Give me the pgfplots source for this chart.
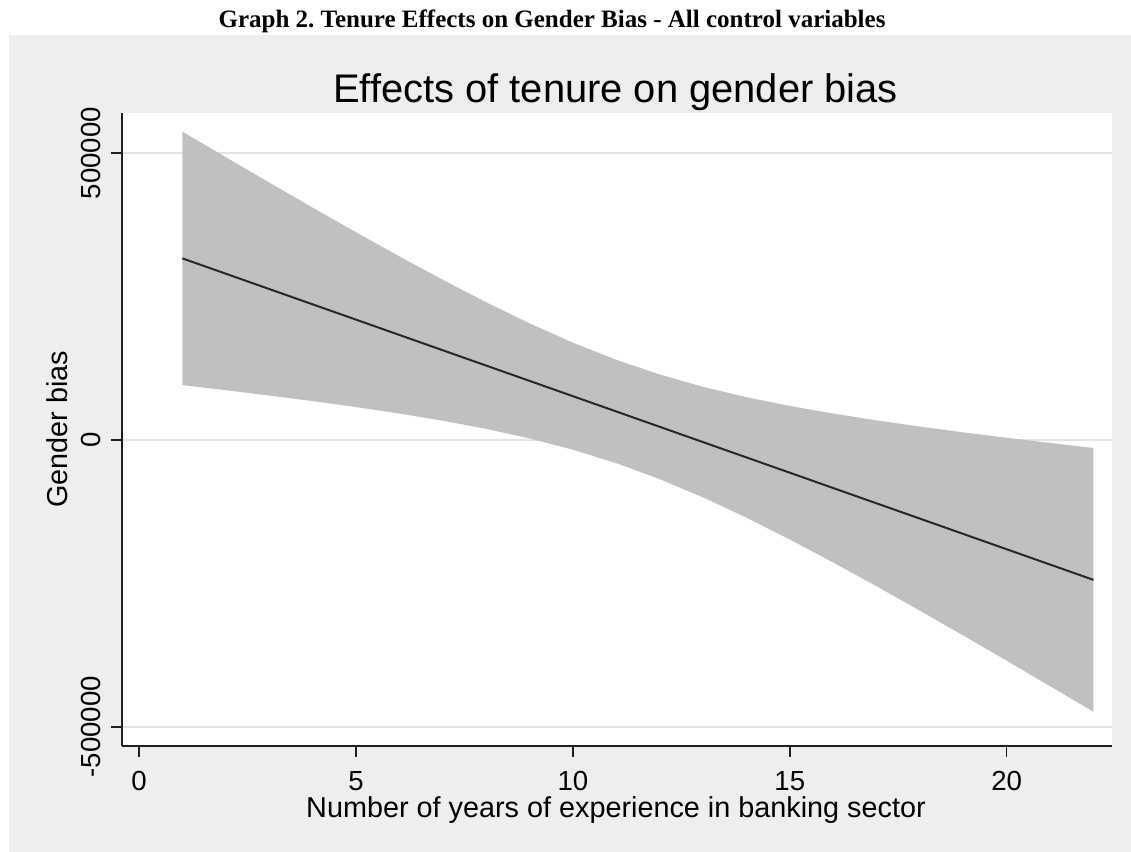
\documentclass[border=0pt]{standalone}
\usepackage{fontspec}
\setmainfont{Liberation Sans}
\newfontfamily\timesfont{Liberation Serif}
\usepackage{pgfplots}
\usepackage{pgfplotstable}
\pgfplotsset{compat=1.18}
\frenchspacing

\definecolor{panelgray}{RGB}{238,238,238}
\definecolor{bandgray}{RGB}{192,192,192}
\definecolor{gridgray}{RGB}{228,228,228}
\definecolor{linegray}{RGB}{40,40,40}
\definecolor{axisblack}{RGB}{30,30,30}

% fitted line
\pgfplotstableread{
x   y
1   316600
22  -243890
}\fitline

% confidence band: upper bound from x=1 to 22, then lower bound back from 22 to 1
\pgfplotstableread{
x   y
1   537500
2   493010
3   448920
4   405230
5   362240
6   320150
7   279360
8   240170
9   203380
10  169690
11  139830
12  114210
13  92680
14  74630
15  59340
16  46050
17  34160
18  23370
19  13280
20  3790
21  -5200
22  -13990
22  -473790
21  -429200
20  -384810
19  -340920
18  -297630
17  -255040
16  -213550
15  -173460
14  -135370
13  -100040
12  -68190
11  -40430
10  -16910
9   2780
8   19370
7   33560
6   46150
5   57440
4   67830
3   77520
2   86810
1   95700
}\band

\begin{document}
\begin{tikzpicture}
\fill[white] (0,0) rectangle (565.5bp,426bp);
\fill[panelgray] (4.5bp,0) rectangle (565.5bp,408.5bp);
\node[anchor=base, inner sep=0pt, font=\timesfont\bfseries\fontsize{12.5bp}{15bp}\selectfont]
  at (276bp,412bp) {Graph 2. Tenure Effects on Gender Bias - All control variables};
\begin{axis}[
  at={(61bp,53bp)}, anchor=south west,
  scale only axis,
  width=495bp, height=316.5bp,
  xmin=-0.392, xmax=22.427,
  ymin=-533500, ymax=570100,
  axis x line*=bottom, axis y line*=left,
  axis line style={axisblack, line width=0.75bp},
  axis background/.style={fill=white},
  tick align=outside,
  major tick length=5.5bp,
  tick style={axisblack, line width=0.75bp},
  xtick={0,5,10,15,20},
  xticklabels={0,5,10,15,20},
  ytick={-500000,0,500000},
  yticklabels={-500000,0,500000},
  scaled y ticks=false, scaled x ticks=false,
  ymajorgrids,
  grid style={gridgray, line width=0.75bp},
  xticklabel style={anchor=base, inner sep=0pt, font=\fontsize{13.8bp}{16bp}\selectfont},
  yticklabel style={rotate=90, anchor=base, inner sep=0pt, font=\fontsize{13.8bp}{16bp}\selectfont},
  xticklabel shift=16.5bp,
  yticklabel shift=5.5bp,
  every axis title shift=0pt,
  title={Effects of tenure on gender bias},
  title style={at={(axis description cs:0.4985,1.0158)}, anchor=base, inner sep=0pt,
    font=\fontsize{19.95bp}{24bp}\selectfont},
  xlabel={Number of years of experience in banking sector},
  xlabel style={at={(axis description cs:0.499,-0.1122)}, anchor=base, inner sep=0pt,
    font=\fontsize{14.4bp}{17bp}\selectfont},
  ylabel={Gender bias},
  ylabel style={at={(axis description cs:-0.05455,0.5)}, anchor=base, inner sep=0pt,
    font=\fontsize{14.4bp}{17bp}\selectfont},
]
\addplot[fill=bandgray, draw=none, no marks] table[x=x, y=y] {\band} -- cycle;
\addplot[linegray, line width=1bp, no marks] table[x=x, y=y] {\fitline};
\end{axis}
\end{tikzpicture}
\end{document}
